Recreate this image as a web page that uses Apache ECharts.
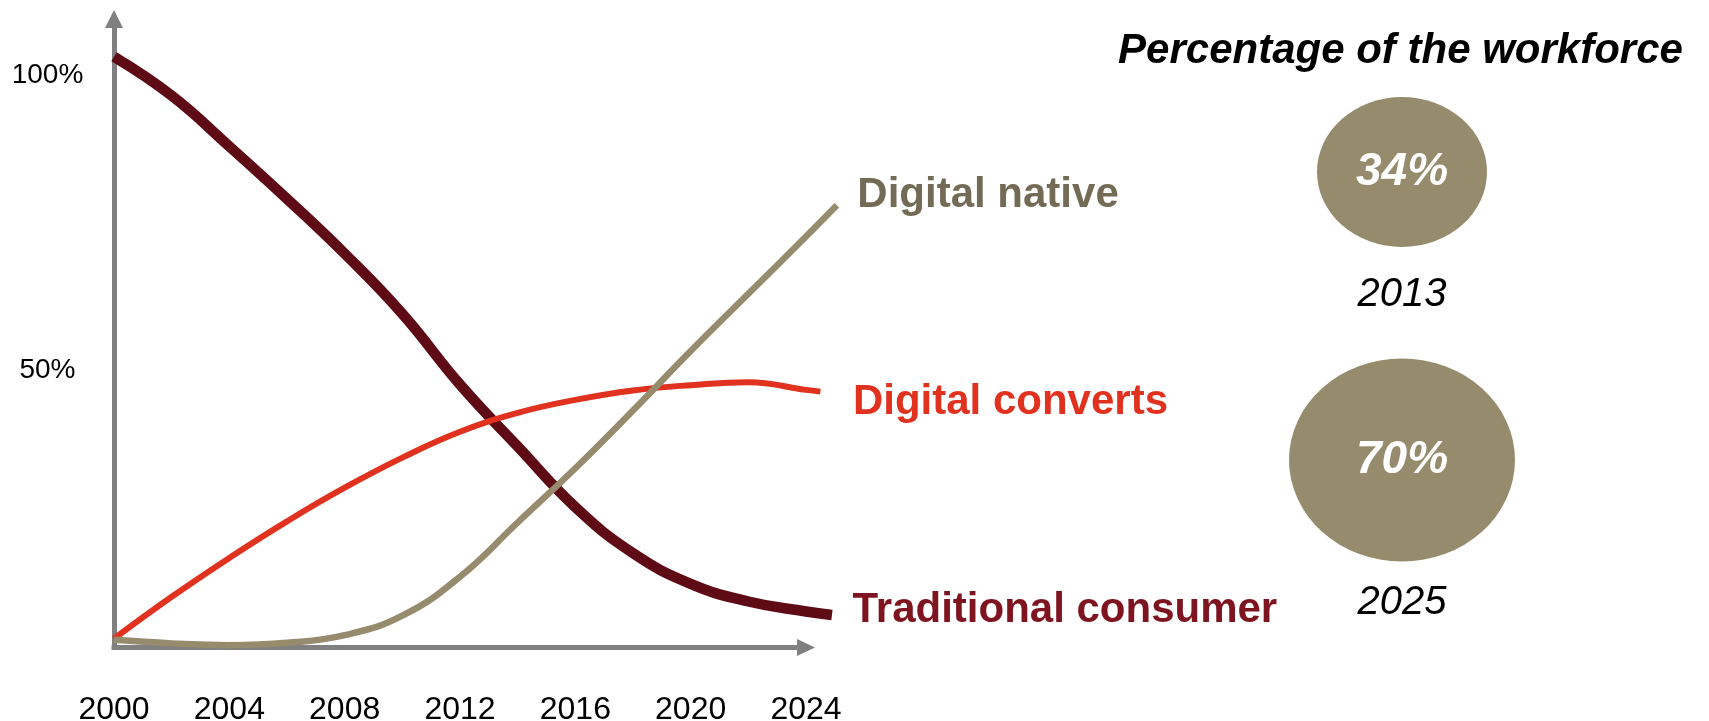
<!DOCTYPE html>
<html>
<head>
<meta charset="utf-8">
<script src="https://cdn.jsdelivr.net/npm/echarts@6.0.0/dist/echarts.min.js"></script>
<style>
  html, body { margin: 0; padding: 0; background: #ffffff; }
  #chart { width: 1709px; height: 721px; }
</style>
</head>
<body>
<div id="chart"></div>
<script>
// Share of consumers (%) by type, 2000 to 2025
const traditionalYears = [2000, 2002, 2004, 2006, 2008, 2010, 2012, 2014, 2016, 2018, 2020, 2022, 2024, 2024.9];
const traditionalShare = [102.6, 96.0, 87.4, 78.5, 69.2, 59.0, 47.0, 36.5, 26.2, 18.4, 13.2, 10.2, 8.5, 7.9];

const convertsYears = [2000, 2002, 2004, 2006, 2008, 2010, 2012, 2014, 2016, 2018, 2020, 2022, 2024, 2024.5];
const convertsShare = [3.9, 11.0, 17.6, 23.8, 29.5, 34.6, 39.0, 42.2, 44.4, 46.0, 46.9, 47.4, 46.1, 45.8];

const nativeYears = [2000, 2002, 2004, 2006, 2008, 2010, 2012, 2014, 2016, 2018, 2020, 2022, 2024, 2025.07];
const nativeShare = [3.7, 3.1, 2.8, 3.2, 4.5, 7.8, 14.4, 23.6, 32.8, 42.6, 52.7, 62.4, 72.1, 77.4];

// Axis ticks
const yearTicks = [2000, 2004, 2008, 2012, 2016, 2020, 2024];
const shareTicks = [50, 100];

// Digital natives as a share of the workforce
const workforceYears = ['2013', '2025'];
const workforceShare = [34, 70];

// ---- styling ----
const FONT = '"Liberation Sans", Arial, Helvetica, sans-serif';
const AXIS_GREY = '#808080';
const bubbleColor = '#978b6d';
const bubbleSizes = [[170, 150], [226, 203]];
const yearLabelGap = [28, 21];
const ELLIPSE = 'path://M0,50 A50,50 0 1,1 100,50 A50,50 0 1,1 0,50 Z';

// Plot frame: axes end at 2024 (arrow), curves run a little past it.
const PLOT_LEFT = 114, PLOT_TOP = 19, PLOT_BOTTOM = 73.5;
const PX_PER_YEAR = 692 / 24;
const X_MIN = 2000, X_AXIS_MAX = 2024, X_DATA_MAX = 2025.5;
const Y_MIN = 2.4, Y_MAX = 109;

function points(xs, ys) {
  return xs.map((x, i) => [x, ys[i]]);
}

const curves = [
  { name: 'Traditional consumer', xs: traditionalYears, ys: traditionalShare,
    color: '#5e0b15', width: 10.5, labelColor: '#7e1420', labelPos: [21, -4] },
  { name: 'Digital converts', xs: convertsYears, ys: convertsShare,
    color: '#e0321f', width: 6, labelColor: '#e0321f', labelPos: [33, 11] },
  { name: 'Digital native', xs: nativeYears, ys: nativeShare,
    color: '#978b6d', width: 6.5, labelColor: '#736b55', labelPos: [21, -9] }
];

const lineSeries = curves.map((c, k) => ({
  type: 'line',
  name: c.name,
  xAxisIndex: 1,
  yAxisIndex: 1,
  data: points(c.xs, c.ys),
  smooth: 0.45,
  showSymbol: false,
  symbol: 'none',
  clip: false,
  silent: true,
  z: 3 + k,
  lineStyle: { color: c.color, width: c.width, cap: 'butt', join: 'round' }
}));

// Series names written just past the end of each curve
const endLabelSeries = {
  type: 'scatter',
  name: 'Curve names',
  xAxisIndex: 1,
  yAxisIndex: 1,
  clip: false,
  silent: true,
  symbol: 'circle',
  symbolSize: 1,
  z: 10,
  itemStyle: { color: 'rgba(0,0,0,0)', opacity: 1 },
  data: curves.map(c => ({
    value: [c.xs[c.xs.length - 1], c.ys[c.ys.length - 1]],
    label: {
      show: true,
      position: c.labelPos,
      align: 'left',
      verticalAlign: 'middle',
      formatter: c.name,
      color: c.labelColor,
      opacity: 1,
      fontFamily: FONT,
      fontSize: 42,
      fontWeight: 'bold'
    }
  }))
};

const chart = echarts.init(document.getElementById('chart'), null, { renderer: 'canvas' });

const axisLineStyle = {
  show: true,
  onZero: false,
  symbol: ['none', 'triangle'],
  lineStyle: { color: AXIS_GREY, width: 5, cap: 'square' }
};

const option = {
  animation: false,
  backgroundColor: '#ffffff',
  textStyle: { fontFamily: FONT },
  graphic: [{
    type: 'text',
    x: 1400.5,
    y: 51,
    silent: true,
    style: {
      text: 'Percentage of the workforce',
      align: 'center',
      verticalAlign: 'middle',
      fill: '#000000',
      font: 'italic bold 42px ' + FONT
    }
  }],
  grid: [
    // axis frame
    { left: PLOT_LEFT, width: PX_PER_YEAR * (X_AXIS_MAX - X_MIN), top: PLOT_TOP, bottom: PLOT_BOTTOM,
      outerBoundsMode: 'none', containLabel: false },
    // curves, same scale, wider extent
    { left: PLOT_LEFT, width: PX_PER_YEAR * (X_DATA_MAX - X_MIN), top: PLOT_TOP, bottom: PLOT_BOTTOM,
      outerBoundsMode: 'none', containLabel: false },
    // workforce bubbles
    { left: 1302, width: 200, top: 28, height: 576, outerBoundsMode: 'none', containLabel: false }
  ],
  xAxis: [
    {
      type: 'value',
      gridIndex: 0,
      min: X_MIN,
      max: X_AXIS_MAX,
      interval: 4,
      axisLine: Object.assign({}, axisLineStyle, { symbolSize: [17, 18] }),
      axisTick: { show: false },
      splitLine: { show: false },
      axisLabel: {
        customValues: yearTicks,
        margin: 47,
        fontSize: 32,
        color: '#000000',
        fontFamily: FONT,
        formatter: v => String(v)
      }
    },
    { type: 'value', gridIndex: 1, min: X_MIN, max: X_DATA_MAX, show: false },
    { type: 'value', gridIndex: 2, min: -1, max: 1, show: false }
  ],
  yAxis: [
    {
      type: 'value',
      gridIndex: 0,
      min: Y_MIN,
      max: Y_MAX,
      axisLine: Object.assign({}, axisLineStyle, { symbolSize: [18, 18] }),
      axisTick: { show: false },
      splitLine: { show: false },
      axisLabel: {
        customValues: shareTicks,
        formatter: '{value}%',
        align: 'center',
        verticalAlign: 'top',
        lineHeight: 6,
        margin: 66.5,
        fontSize: 28,
        color: '#000000',
        fontFamily: FONT
      }
    },
    { type: 'value', gridIndex: 1, min: Y_MIN, max: Y_MAX, show: false },
    { type: 'category', gridIndex: 2, data: workforceYears, inverse: true, show: false }
  ],
  series: lineSeries.concat([
    endLabelSeries,
    {
      type: 'scatter',
      name: 'Workforce share',
      xAxisIndex: 2,
      yAxisIndex: 2,
      silent: true,
      symbol: ELLIPSE,
      itemStyle: { color: bubbleColor, opacity: 1 },
      label: {
        show: true,
        position: 'inside',
        formatter: p => p.value[2] + '%',
        color: '#ffffff',
        fontFamily: FONT,
        fontSize: 46,
        fontStyle: 'italic',
        fontWeight: 'bold'
      },
      data: workforceShare.map((v, i) => ({ value: [0, i, v], symbolSize: bubbleSizes[i] }))
    },
    {
      type: 'scatter',
      name: 'Workforce year',
      xAxisIndex: 2,
      yAxisIndex: 2,
      silent: true,
      symbol: ELLIPSE,
      itemStyle: { color: 'rgba(0,0,0,0)', opacity: 1 },
      label: {
        show: true,
        position: 'bottom',
        color: '#000000',
        opacity: 1,
        fontFamily: FONT,
        fontSize: 40,
        fontStyle: 'italic'
      },
      data: workforceYears.map((y, i) => ({
        value: [0, i],
        symbolSize: bubbleSizes[i],
        label: { distance: yearLabelGap[i], formatter: y, color: '#000000' }
      }))
    }
  ])
};

chart.setOption(option);
</script>
</body>
</html>
